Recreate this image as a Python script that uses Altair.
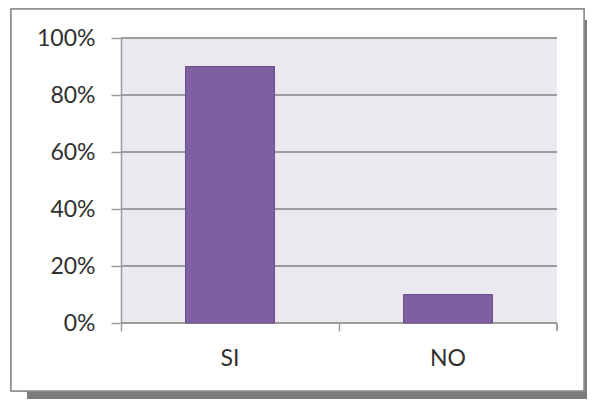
import altair as alt
import pandas as pd

categories = ["SI", "NO"]
values = [0.90, 0.10]
y_ticks = [0.0, 0.2, 0.4, 0.6, 0.8, 1.0]

bars_df = pd.DataFrame({"cat": categories, "val": values})
grid_df = pd.DataFrame({"val": y_ticks})

W, H = 436, 285
FONT = "Lato"
TXT = "#303030"
GRID = "#9c9c9c"
FS = 23

xscale = alt.Scale(domain=categories, paddingInner=0, paddingOuter=0)
yscale = alt.Scale(domain=[0, 1], nice=False)
yaxis = alt.Axis(values=y_ticks, format=".0%", tickSize=10, tickColor=GRID,
                 tickWidth=1.5, domainColor=GRID, domainWidth=1.5,
                 labelPadding=16, labelFont=FONT, labelFontSize=FS,
                 labelColor=TXT, grid=False, zindex=2)

shadow = alt.Chart(bars_df).mark_rect(color="#7c7c7c").encode(
    x=alt.value(-94), x2=alt.value(480), y=alt.value(-18), y2=alt.value(380)
)
frame = alt.Chart(bars_df).mark_rect(fill="white", stroke="#8a8a8a", strokeWidth=1.5).encode(
    x=alt.value(-110), x2=alt.value(463), y=alt.value(-29), y2=alt.value(353)
)
plotbg = alt.Chart(bars_df).mark_rect(color="#ebe8f0").encode(
    x=alt.value(0), x2=alt.value(W), y=alt.value(0), y2=alt.value(H)
)
grid = alt.Chart(grid_df).mark_rule(color=GRID, strokeWidth=2).encode(
    y=alt.Y("val:Q", scale=yscale, axis=yaxis, title=None),
    x=alt.value(0), x2=alt.value(W)
)
bars = alt.Chart(bars_df).mark_bar(
    width=89, color="#7e60a1", stroke="#6a4f8c", strokeWidth=1
).encode(
    x=alt.X("cat:N", scale=xscale, sort=categories, title=None,
            axis=alt.Axis(labelAngle=0, bandPosition=0, tickSize=8, tickColor=GRID,
                          tickWidth=1.5, domain=False, labelPadding=16,
                          labelFont=FONT, labelFontSize=FS, labelColor=TXT,
                          grid=False, zindex=2)),
    y=alt.Y("val:Q", scale=yscale, title=None, axis=yaxis),
)
endtick = alt.Chart(bars_df).mark_rule(color=GRID, strokeWidth=1.5).encode(
    x=alt.value(W), y=alt.value(H), y2=alt.value(H + 8)
)

chart = alt.layer(shadow, frame, plotbg, grid, bars, endtick).properties(
    width=W, height=H,
    autosize=alt.AutoSizeParams(type="none"),
    padding={"left": 113, "top": 30, "right": 30, "bottom": 76},
).configure_view(stroke=None).configure(background="white")

chart.save("out.html", embed_options={"renderer": "svg", "actions": False})
